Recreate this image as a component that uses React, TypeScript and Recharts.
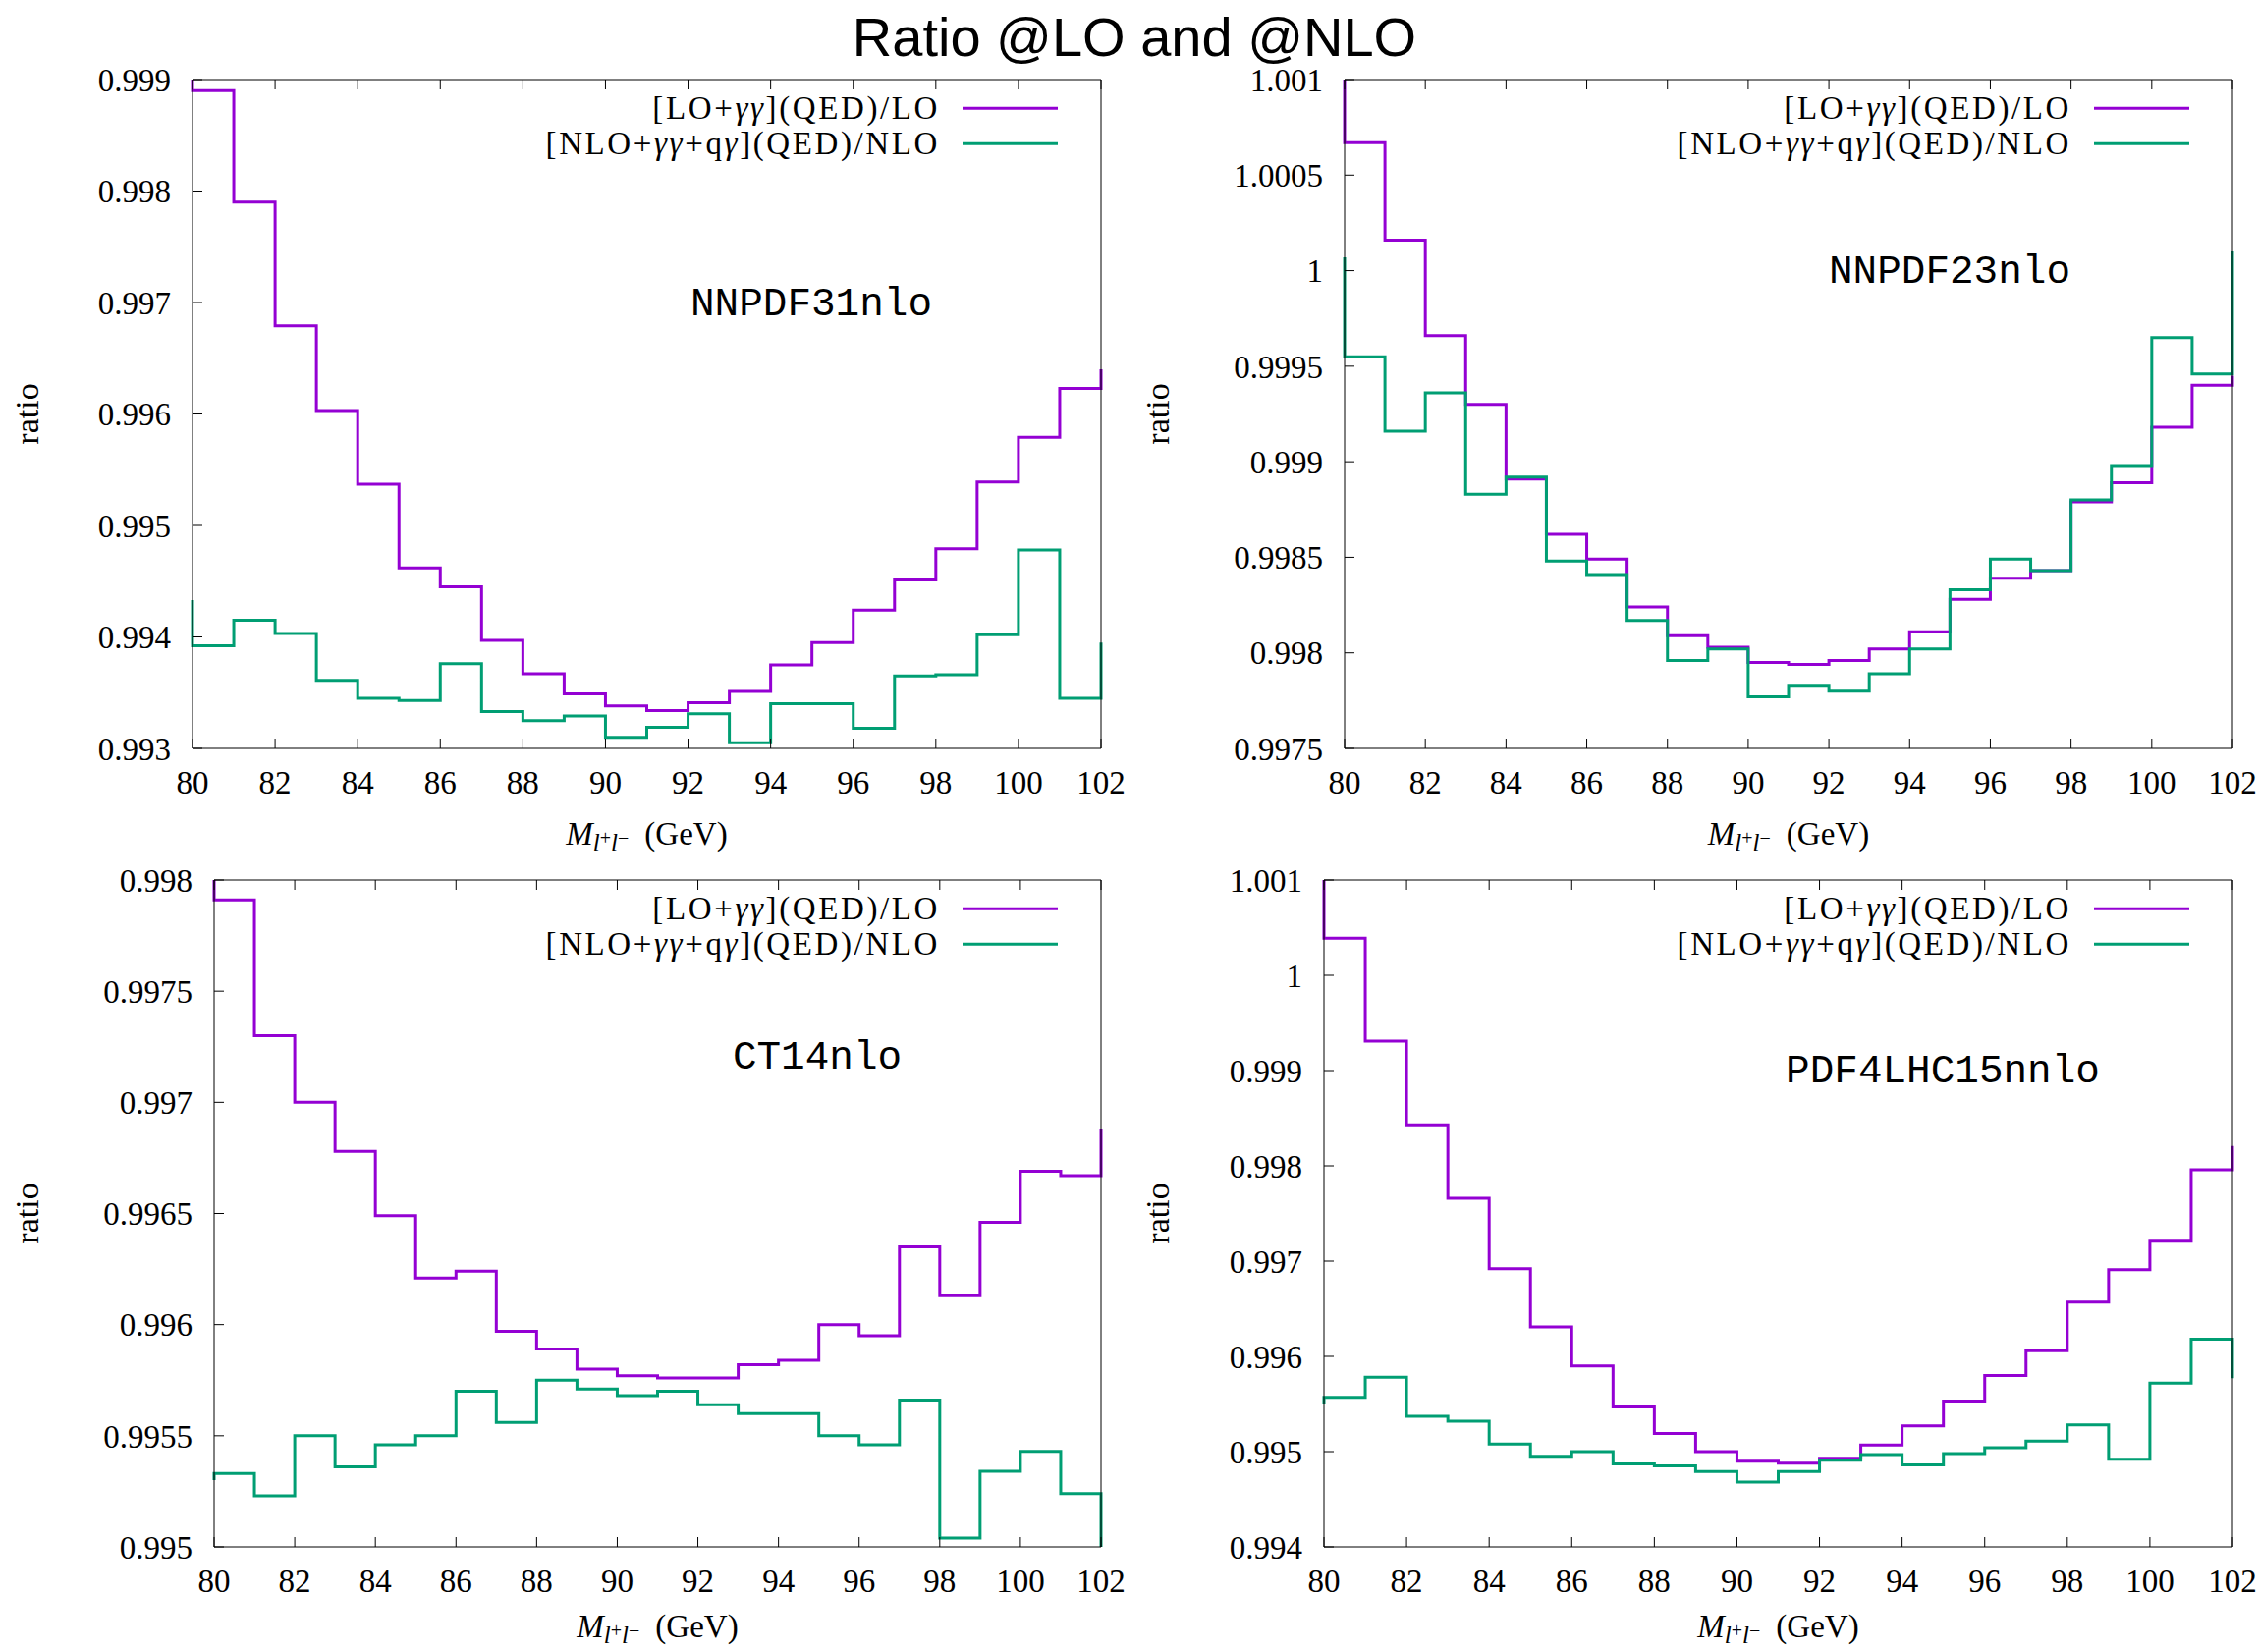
import { Legend, Line, LineChart, XAxis, YAxis } from "recharts";

// bin edges of the dilepton mass (GeV)
const massEdges = [80, 81, 82, 83, 84, 85, 86, 87, 88, 89, 90, 91, 92, 93, 94, 95, 96, 97, 98, 99, 100, 101, 102];
const massTicks = [80, 82, 84, 86, 88, 90, 92, 94, 96, 98, 100, 102];

const seriesNames = ["[LO+γγ](QED)/LO", "[NLO+γγ+qγ](QED)/NLO"];
const pdfNames = ["NNPDF31nlo", "NNPDF23nlo", "CT14nlo", "PDF4LHC15nnlo"];

// ratio arrays: value at the left edge, then the 22 bins 80-81 ... 101-102, then the value at the right edge
const nnpdf31Lo = [0.999, 0.9989, 0.9979, 0.99679, 0.99603, 0.99537, 0.99462, 0.99445, 0.99397, 0.99367, 0.99349, 0.99338, 0.99334, 0.99341, 0.99351, 0.99375, 0.99395, 0.99424, 0.99451, 0.99479, 0.99539, 0.99579, 0.99623, 0.9964];
const nnpdf31Nlo = [0.99433, 0.99392, 0.99415, 0.99403, 0.99361, 0.99345, 0.99343, 0.99376, 0.99333, 0.99325, 0.99329, 0.9931, 0.99319, 0.99331, 0.99305, 0.9934, 0.9934, 0.99318, 0.99365, 0.99366, 0.99402, 0.99478, 0.99345, 0.99395];

const nnpdf23Lo = [1.001, 1.00067, 1.00016, 0.99966, 0.9993, 0.99891, 0.99862, 0.99849, 0.99824, 0.99809, 0.99803, 0.99795, 0.99794, 0.99796, 0.99802, 0.99811, 0.99828, 0.99839, 0.99843, 0.99879, 0.99889, 0.99918, 0.9994, 0.99945];
const nnpdf23Nlo = [1.00007, 0.99955, 0.99916, 0.99936, 0.99883, 0.99892, 0.99848, 0.99841, 0.99817, 0.99796, 0.99802, 0.99777, 0.99783, 0.9978, 0.99789, 0.99802, 0.99833, 0.99849, 0.99843, 0.9988, 0.99898, 0.99965, 0.99946, 1.0001];

const ct14Lo = [0.998, 0.99791, 0.9973, 0.997, 0.99678, 0.99649, 0.99621, 0.99624, 0.99597, 0.99589, 0.9958, 0.99577, 0.99576, 0.99576, 0.99582, 0.99584, 0.996, 0.99595, 0.99635, 0.99613, 0.99646, 0.99669, 0.99667, 0.99688];
const ct14Nlo = [0.9953, 0.99533, 0.99523, 0.9955, 0.99536, 0.99546, 0.9955, 0.9957, 0.99556, 0.99575, 0.99571, 0.99568, 0.9957, 0.99564, 0.9956, 0.9956, 0.9955, 0.99546, 0.99566, 0.99504, 0.99534, 0.99543, 0.99524, 0.995];

const pdf4lhcLo = [1.001, 1.00039, 0.99931, 0.99843, 0.99766, 0.99692, 0.99631, 0.9959, 0.99547, 0.99519, 0.995, 0.9949, 0.99488, 0.99493, 0.99507, 0.99527, 0.99553, 0.9958, 0.99606, 0.99657, 0.99691, 0.99721, 0.99796, 0.99821];
const pdf4lhcNlo = [0.9955, 0.99557, 0.99578, 0.99537, 0.99532, 0.99508, 0.99495, 0.995, 0.99487, 0.99485, 0.99479, 0.99468, 0.99479, 0.99491, 0.99497, 0.99486, 0.99498, 0.99504, 0.99511, 0.99528, 0.99492, 0.99572, 0.99618, 0.99577];

const ticks31 = [0.993, 0.994, 0.995, 0.996, 0.997, 0.998, 0.999];
const ticks23 = [0.9975, 0.998, 0.9985, 0.999, 0.9995, 1, 1.0005, 1.001];
const ticksCt14 = [0.995, 0.9955, 0.996, 0.9965, 0.997, 0.9975, 0.998];
const ticks4lhc = [0.994, 0.995, 0.996, 0.997, 0.998, 0.999, 1, 1.001];

const PURPLE = "#9400d3";
const GREEN = "#009e73";
const SERIF = '"Liberation Serif", "DejaVu Serif", serif';
const MONO = '"Liberation Mono", "DejaVu Sans Mono", monospace';
const SANS = '"Liberation Sans", "DejaVu Sans", sans-serif';

const AXIS_W = 220;
const TOP_M = 30;
const RIGHT_M = 30;
const XAXIS_H = 120;
const ROW_H = 36.5;

function buildRows(lo: number[], nlo: number[]) {
  return lo.map((v, i) => ({ mass: massEdges[Math.max(0, i - 1)], lo: v, nlo: nlo[i] }));
}

const panels = [
  { name: pdfNames[0], lo: nnpdf31Lo, nlo: nnpdf31Nlo, ticks: ticks31, plot: { x: 196, y: 81, w: 925, h: 681 }, ratioX: 27, xLabelDy: 98, tag: { x: 826, y: 310 } },
  { name: pdfNames[1], lo: nnpdf23Lo, nlo: nnpdf23Nlo, ticks: ticks23, plot: { x: 1369, y: 81, w: 904, h: 681 }, ratioX: 1178, xLabelDy: 98, tag: { x: 1985, y: 277 } },
  { name: pdfNames[2], lo: ct14Lo, nlo: ct14Nlo, ticks: ticksCt14, plot: { x: 218, y: 896, w: 903, h: 679 }, ratioX: 27, xLabelDy: 92, tag: { x: 832, y: 1077 } },
  { name: pdfNames[3], lo: pdf4lhcLo, nlo: pdf4lhcNlo, ticks: ticks4lhc, plot: { x: 1348, y: 896, w: 925, h: 679 }, ratioX: 1178, xLabelDy: 92, tag: { x: 1978, y: 1091 } },
];

function withGamma(text: string) {
  return text.split("").map((ch, i) =>
    ch === "γ" ? <i key={i}>γ</i> : <span key={i}>{ch}</span>
  );
}

function GnuLegend({ payload }: any) {
  return (
    <div style={{ display: "flex", flexDirection: "column", alignItems: "flex-end" }}>
      {(payload ?? []).map((entry: any) => (
        <div key={entry.value} style={{ display: "flex", alignItems: "center", height: ROW_H }}>
          <span style={{ fontFamily: SERIF, fontSize: 33, letterSpacing: 2.6, lineHeight: `${ROW_H}px`, whiteSpace: "nowrap", color: "#000" }}>
            {withGamma(entry.value)}
          </span>
          <svg width={120} height={ROW_H}>
            <line x1={23} x2={120} y1={ROW_H / 2} y2={ROW_H / 2} stroke={entry.color} strokeWidth={3} />
          </svg>
        </div>
      ))}
    </div>
  );
}

const makeXLabel = (dy: number) => (props: any) => {
  const vb = props.viewBox;
  const cx = vb.x + vb.width / 2;
  const y = vb.y + dy;
  return (
    <text x={cx} y={y} textAnchor="middle" fontFamily={SERIF} fontSize={33} fill="#000">
      <tspan fontStyle="italic">M</tspan>
      <tspan fontSize={25} fontStyle="italic" dy={6}>l</tspan>
      <tspan fontSize={20} dy={-6}>+</tspan>
      <tspan fontSize={25} fontStyle="italic" dy={6}>l</tspan>
      <tspan fontSize={20} dy={-6}>−</tspan>
      <tspan dx={16}>(GeV)</tspan>
    </text>
  );
};

const makeYLabel = (x: number) => (props: any) => {
  const vb = props.viewBox;
  const cy = vb.y + vb.height / 2;
  return (
    <text x={x} y={cy} transform={`rotate(-90 ${x} ${cy})`} textAnchor="middle" dominantBaseline="central" fontFamily={SERIF} fontSize={34} fill="#000">
      ratio
    </text>
  );
};

function RatioPanel({ panel }: { panel: (typeof panels)[number] }) {
  const { plot, ticks } = panel;
  const left = plot.x - AXIS_W;
  const top = plot.y - TOP_M;
  const width = plot.w + AXIS_W + RIGHT_M;
  const height = plot.h + TOP_M + XAXIS_H;
  const rows = buildRows(panel.lo, panel.nlo);
  const domain: [number, number] = [ticks[0], ticks[ticks.length - 1]];
  const tickFont = { fill: "#000", fontSize: 33, fontFamily: SERIF };

  return (
    <div style={{ position: "absolute", left, top, width, height }}>
      <LineChart width={width} height={height} data={rows} margin={{ top: TOP_M - 1, right: RIGHT_M - 1, bottom: 0, left: 0 }}>
        <XAxis xAxisId="b" dataKey="mass" type="number" domain={[80, 102]} ticks={massTicks} interval={0}
          height={XAXIS_H} tickSize={-10} tickMargin={33} stroke="#000" tick={tickFont} label={makeXLabel(panel.xLabelDy)} />
        <XAxis xAxisId="t" orientation="top" dataKey="mass" type="number" domain={[80, 102]} ticks={massTicks} interval={0}
          height={1} tickSize={-10} stroke="#000" tickFormatter={() => ""} />
        <YAxis yAxisId="l" type="number" domain={domain} ticks={ticks} interval={0} width={AXIS_W}
          tickSize={-10} tickMargin={32} stroke="#000" tick={tickFont} tickFormatter={(v: number) => String(v)}
          label={makeYLabel(panel.ratioX - left)} />
        <YAxis yAxisId="r" orientation="right" type="number" domain={domain} ticks={ticks} interval={0} width={1}
          tickSize={-10} stroke="#000" tickFormatter={() => ""} />
        <Legend verticalAlign="middle" align="center" layout="horizontal" content={<GnuLegend />}
          wrapperStyle={{ position: "absolute", left: AXIS_W + plot.w - 44 - 700, top: TOP_M + 10.75, width: 700 }} />
        <Line xAxisId="b" yAxisId="l" type="stepAfter" dataKey="lo" name={seriesNames[0]} stroke={PURPLE}
          strokeWidth={3} dot={false} activeDot={false} isAnimationActive={false} />
        <Line xAxisId="b" yAxisId="l" type="stepAfter" dataKey="nlo" name={seriesNames[1]} stroke={GREEN}
          strokeWidth={3} dot={false} activeDot={false} isAnimationActive={false} />
      </LineChart>
      <div style={{
        position: "absolute", left: panel.tag.x - left, top: panel.tag.y - top,
        transform: "translate(-50%, -50%)", fontFamily: MONO, fontSize: 41, lineHeight: 1,
        whiteSpace: "nowrap", color: "#000",
      }}>
        {panel.name}
      </div>
    </div>
  );
}

export default function App() {
  return (
    <div style={{ position: "absolute", left: 0, top: 0, width: 2300, height: 1682, background: "#fff", overflow: "hidden" }}>
      <div style={{ position: "absolute", left: 0, top: 18, width: 2310, textAlign: "center", fontFamily: SANS, fontSize: 56, lineHeight: "40px", color: "#000" }}>
        Ratio @LO and @NLO
      </div>
      {panels.map((p) => (
        <RatioPanel key={p.name} panel={p} />
      ))}
    </div>
  );
}
